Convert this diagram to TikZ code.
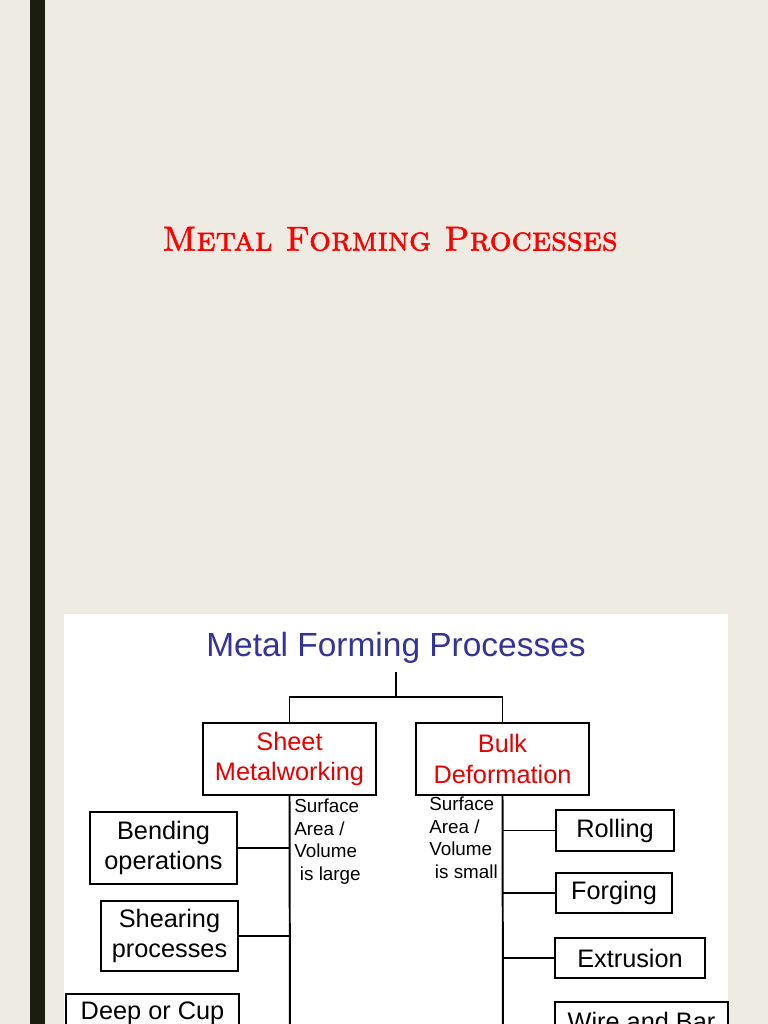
\documentclass[tikz,border=0pt]{standalone}
\usepackage{fontspec}
\newfontfamily\arial{Liberation Sans}
\newfontfamily\titlefont{lmromancaps10-regular.otf}[FakeBold=1.6]
\usetikzlibrary{positioning}
\definecolor{slidebg}{RGB}{238,235,227}
\definecolor{barcol}{RGB}{27,30,14}
\definecolor{headblue}{RGB}{51,51,153}
\definecolor{boxred}{RGB}{232,0,0}
\tikzset{
  mainbox/.style={draw, line width=1.4pt, minimum width=4.325cm, minimum height=1.8cm, align=center, text=boxred, font=\arial\fontsize{18}{21.5}\selectfont},
  procbox/.style={draw, line width=1.4pt, minimum height=1.0cm, align=center, inner sep=2pt, font=\arial\fontsize{18}{21}\selectfont},
  ratio/.style={anchor=north west, align=left, inner sep=0pt, font=\arial\fontsize{13.4}{16}\selectfont},
  link/.style={line width=1.4pt}
}

\begin{document}
\begin{tikzpicture}[x=0.025cm, y=-0.025cm]
  \useasboundingbox (0,0) rectangle (768,1024);
  \clip (0,0) rectangle (768,1024);
  \fill[slidebg] (0,0) rectangle (768,1024);
  \fill[barcol] (30,0) rectangle (45,1024);
  \node[text=red, font=\titlefont\fontsize{24.5}{29}\selectfont] (title) at (390,239) {Metal Forming Processes};
  % chart panel
  \fill[white] (64,614) rectangle (728,1030);
  \node[text=headblue, font=\arial\fontsize{23.8}{28}\selectfont] (head) at (396,648) {Metal Forming Processes};
  \coordinate (top) at (396,672);
  \coordinate (split) at (396,697);
  \node[mainbox] (sheet) at (289.5,759) {Sheet\\Metalworking};
  \node[mainbox] (bulk) at (502.5,759) {Bulk\\Deformation};
  \node[ratio] (sheetnote) at (294,799) {Surface\\Area /\\Volume\\\hspace{0.3em}is large};
  \node[ratio] (bulknote) at (429,797) {Surface\\Area /\\Volume\\\hspace{0.3em}is small};
  % sheet metalworking branch
  \node[procbox, minimum width=3.675cm, minimum height=1.8cm] (bend) at (163.5,848) {Bending\\operations};
  \node[procbox, minimum width=3.425cm, minimum height=1.75cm] (shear) at (169.5,936) {Shearing\\processes};
  \node[procbox, minimum width=4.325cm, anchor=north, text height=16pt, text depth=1.3cm] (deep) at (152.5,993) {Deep or Cup};
  % bulk deformation branch
  \node[procbox, minimum width=2.95cm, minimum height=1.025cm] (roll) at (615,830.5) {Rolling};
  \node[procbox, minimum width=2.9cm] (forge) at (614,893) {Forging};
  \node[procbox, minimum width=3.75cm] (extr) at (630,958) {Extrusion};
  \node[procbox, minimum width=4.325cm, anchor=north, text height=18.5pt, text depth=1.2cm] (wire) at (641.5,1001) {Wire and Bar};
  \coordinate (sheetend) at (290,1040);
  \coordinate (bulkend) at (503,1040);
  % connectors
  \draw[link] (top) -- (split);
  \draw[link] (sheet.north) |- (split) -| (bulk.north);
  \draw[link] (sheet.south) -- (sheetend);
  \draw[link] (bulk.south) -- (bulkend);
  \draw[link] (bend.east) -- (bend.east -| sheet.south);
  \draw[link] (shear.east) -- (shear.east -| sheet.south);
  \draw[link] (deep.east) -- (deep.east -| sheet.south);
  \draw[link] (roll.west) -- (roll.west -| bulk.south);
  \draw[link] (forge.west) -- (forge.west -| bulk.south);
  \draw[link] (extr.west) -- (extr.west -| bulk.south);
  \draw[link] (wire.west) -- (wire.west -| bulk.south);
\end{tikzpicture}
\end{document}
